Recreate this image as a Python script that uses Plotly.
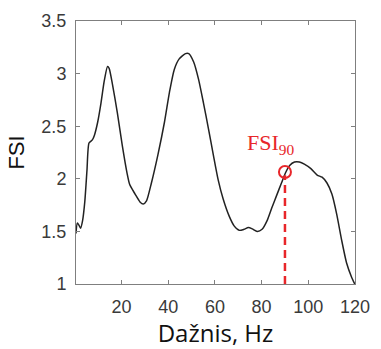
import plotly.graph_objects as go

freq_hz = [0.5, 1.06, 1.75, 2.45, 3.3, 4.26, 5.2, 6.07, 7.5, 8.4, 9.8, 11.2, 12.6, 14.0, 14.7,
           16.1, 18.2, 20.3, 22.4, 23.5, 25.8, 27.9, 29.3, 30.7, 32.8, 35.6, 38.4, 40.5, 42.6,
           44.7, 47.4, 48.8, 50.9, 53.0, 55.1, 57.2, 59.3, 61.4, 63.5, 66.2, 68.3, 70.4, 72.5,
           74.3, 76.0, 78.1, 80.2, 82.3, 84.3, 86.4, 88.5, 90.3, 92.0, 94.1, 96.2, 98.3, 101.1,
           103.8, 105.9, 108.0, 110.1, 112.2, 114.3, 116.4, 118.5, 119.9]
fsi = [1.48, 1.58, 1.56, 1.53, 1.60, 1.78, 2.08, 2.34, 2.37, 2.415, 2.54, 2.72, 2.93, 3.067, 3.05,
       2.90, 2.63, 2.32, 2.05, 1.945, 1.855, 1.78, 1.76, 1.79, 1.96, 2.23, 2.54, 2.82, 3.04,
       3.14, 3.19, 3.19, 3.11, 2.945, 2.72, 2.48, 2.23, 1.99, 1.81, 1.64, 1.55, 1.51, 1.52,
       1.536, 1.524, 1.50, 1.52, 1.60, 1.72, 1.84, 1.96, 2.06, 2.127, 2.16, 2.16, 2.14, 2.097,
       2.036, 2.015, 1.96, 1.855, 1.66, 1.415, 1.20, 1.067, 1.0]

fsi90_x = [90]
fsi90_y = [2.064]
fsi90_label = "FSI<sub>90</sub>"

x_ticks = [20, 40, 60, 80, 100, 120]
y_ticks = [1, 1.5, 2, 2.5, 3, 3.5]
y_tick_text = ["1", "1.5", "2", "2.5", "3", "3.5"]

fig = go.Figure()
fig.add_trace(go.Scatter(x=freq_hz, y=fsi, mode="lines", line=dict(color="#222222", width=1.5, shape="spline", smoothing=0.6),
                         showlegend=False, hoverinfo="skip"))
fig.add_trace(go.Scatter(x=[fsi90_x[0], fsi90_x[0]], y=[1, fsi90_y[0] - 0.03], mode="lines",
                         line=dict(color="#e8262a", width=2.5, dash="8px,5px"), showlegend=False))
fig.add_trace(go.Scatter(x=fsi90_x, y=fsi90_y, mode="markers",
                         marker=dict(symbol="circle-open", size=12, color="#e8262a", line=dict(width=2, color="#e8262a")),
                         showlegend=False))
fig.add_annotation(x=83.8, y=2.33, text=fsi90_label, showarrow=False, xanchor="center", yanchor="middle",
                   font=dict(family="Liberation Serif", size=22, color="#e8262a"))

axis_common = dict(showgrid=False, zeroline=False, showline=True, linecolor="#7f7f7f", linewidth=1,
                   mirror="ticks", ticks="inside", ticklen=4, tickcolor="#7f7f7f",
                   tickfont=dict(family="Liberation Sans", size=18, color="#3a3a3a"))
fig.update_xaxes(range=[0.5, 120], tickvals=x_ticks, ticklabelstandoff=6,
                 title=dict(text="Dažnis, Hz", font=dict(family="Open Sans", size=24, color="#111111"), standoff=5), **axis_common)
fig.update_yaxes(range=[1, 3.5], tickvals=y_ticks, ticktext=y_tick_text, ticklabelstandoff=5,
                 title=dict(text="FSI", font=dict(family="Liberation Sans", size=22, color="#111111"), standoff=10), **axis_common)

fig.update_layout(width=381, height=349, margin=dict(l=76, r=19, t=11, b=63),
                  paper_bgcolor="white", plot_bgcolor="white")
fig.write_html("out.html")
